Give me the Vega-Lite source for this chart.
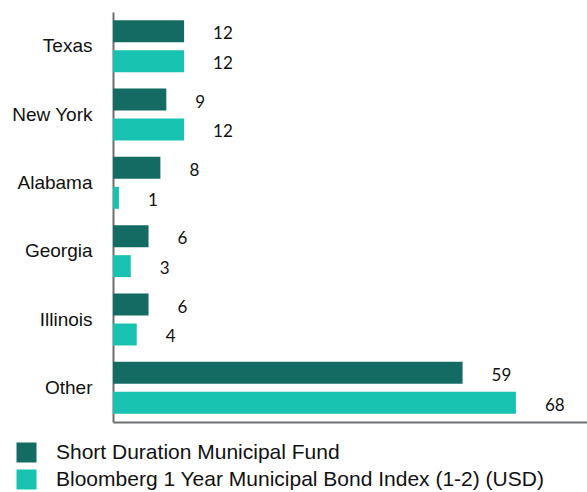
{
  "$schema": "https://vega.github.io/schema/vega-lite/v6.json",
  "autosize": {"type": "none"},
  "padding": {"left": 113, "top": 12, "right": 0, "bottom": 70},
  "width": 474,
  "height": 410,
  "background": "white",
  "config": {"view": {"stroke": null}},
  "data": {
    "values": [
      {"state": "Texas", "series": "Short Duration Municipal Fund", "value": 12},
      {"state": "Texas", "series": "Bloomberg 1 Year Municipal Bond Index (1-2) (USD)", "value": 12},
      {"state": "New York", "series": "Short Duration Municipal Fund", "value": 9},
      {"state": "New York", "series": "Bloomberg 1 Year Municipal Bond Index (1-2) (USD)", "value": 12},
      {"state": "Alabama", "series": "Short Duration Municipal Fund", "value": 8},
      {"state": "Alabama", "series": "Bloomberg 1 Year Municipal Bond Index (1-2) (USD)", "value": 1},
      {"state": "Georgia", "series": "Short Duration Municipal Fund", "value": 6},
      {"state": "Georgia", "series": "Bloomberg 1 Year Municipal Bond Index (1-2) (USD)", "value": 3},
      {"state": "Illinois", "series": "Short Duration Municipal Fund", "value": 6},
      {"state": "Illinois", "series": "Bloomberg 1 Year Municipal Bond Index (1-2) (USD)", "value": 4},
      {"state": "Other", "series": "Short Duration Municipal Fund", "value": 59},
      {"state": "Other", "series": "Bloomberg 1 Year Municipal Bond Index (1-2) (USD)", "value": 68}
    ]
  },
  "encoding": {
    "y": {
      "field": "state",
      "type": "nominal",
      "sort": ["Texas", "New York", "Alabama", "Georgia", "Illinois", "Other"],
      "scale": {"paddingInner": 0.24, "paddingOuter": 0.12},
      "axis": {
        "title": null,
        "ticks": false,
        "labelFont": "Liberation Sans",
        "labelFontSize": 19,
        "labelColor": "#111111",
        "labelPadding": 21,
        "domainColor": "#6b6e70",
        "domainWidth": 2
      }
    },
    "yOffset": {
      "field": "series",
      "type": "nominal",
      "sort": ["Short Duration Municipal Fund", "Bloomberg 1 Year Municipal Bond Index (1-2) (USD)"],
      "scale": {"paddingInner": 0.267, "paddingOuter": 0}
    },
    "x": {
      "field": "value",
      "type": "quantitative",
      "scale": {"domain": [0, 80], "nice": false},
      "axis": {
        "title": null,
        "labels": false,
        "ticks": false,
        "grid": false,
        "domainColor": "#6b6e70",
        "domainWidth": 2
      }
    }
  },
  "layer": [
    {
      "mark": {"type": "bar"},
      "encoding": {
        "color": {
          "field": "series",
          "type": "nominal",
          "scale": {
            "domain": ["Short Duration Municipal Fund", "Bloomberg 1 Year Municipal Bond Index (1-2) (USD)"],
            "range": ["#136b63", "#17c2b1"]
          },
          "legend": {
            "title": null,
            "orient": "none",
            "legendX": -97,
            "legendY": 430,
            "direction": "vertical",
            "symbolType": "square",
            "symbolSize": 400,
            "symbolStrokeWidth": 0,
            "symbolOpacity": 1,
            "labelFont": "Liberation Sans",
            "labelFontSize": 21,
            "labelColor": "#111111",
            "labelOffset": 19,
            "labelLimit": 600,
            "rowPadding": 5,
            "padding": 0
          }
        }
      }
    },
    {
      "mark": {"type": "text", "align": "left", "baseline": "middle", "dx": 29, "dy": 3, "font": "Lato", "fontSize": 17, "color": "#111111"},
      "encoding": {
        "text": {"field": "value", "type": "quantitative"}
      }
    }
  ]
}
